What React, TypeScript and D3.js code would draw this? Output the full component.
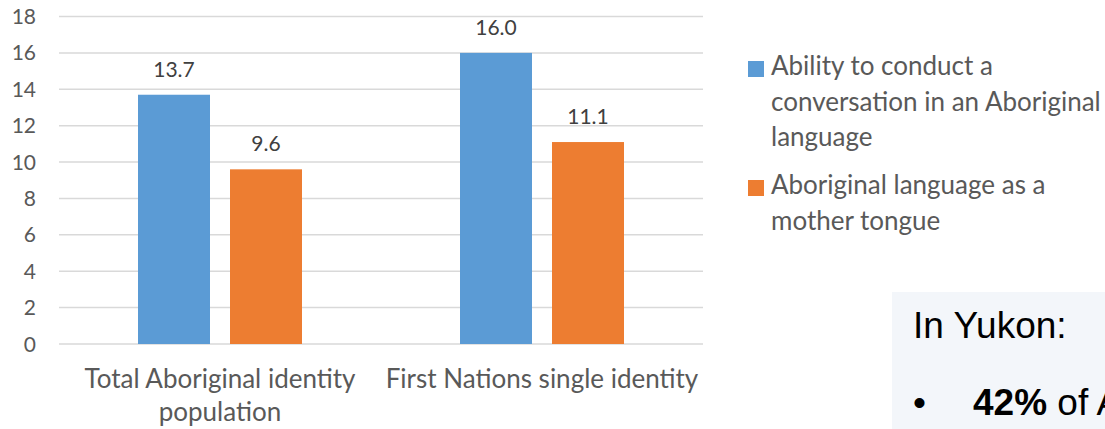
import { useEffect, useRef } from "react"
import * as d3 from "d3"

const categories = ["Total Aboriginal identity population", "First Nations single identity"]
const categoryLines = [["Total Aboriginal identity", "population"], ["First Nations single identity"]]
const seriesNames = [
  "Ability to conduct a conversation in an Aboriginal language",
  "Aboriginal language as a mother tongue",
]
const legendLines = [
  ["Ability to conduct a", "conversation in an Aboriginal", "language"],
  ["Aboriginal language as a", "mother tongue"],
]
const conversation = [13.7, 16.0]
const motherTongue = [9.6, 11.1]
const yTicks = [0, 2, 4, 6, 8, 10, 12, 14, 16, 18]
const colors = ["#5b9bd5", "#ed7d31"]

const W = 1105
const H = 429
const FONT = "Lato, 'Open Sans', sans-serif"

export default function App() {
  const svgRef = useRef<SVGSVGElement>(null)

  useEffect(() => {
    const svgEl = svgRef.current
    if (!svgEl) return
    const svg = d3.select(svgEl)
    svg.selectAll("*").remove()

    const plot = { left: 59, right: 703, top: 16.5, bottom: 344 }
    const values = [conversation, motherTongue]

    const y = d3.scaleLinear().domain([0, 18]).range([plot.bottom, plot.top])
    const x0 = d3.scaleBand<string>().domain(categories).range([plot.left, plot.right]).padding(0)
    const x1 = d3.scaleBand<string>().domain(seriesNames).range([0, x0.bandwidth()])
      .paddingInner(0.2174).paddingOuter(0.8587)

    // gridlines
    svg.append("g").selectAll("line").data(yTicks).join("line")
      .attr("x1", plot.left).attr("x2", plot.right)
      .attr("y1", d => y(d)).attr("y2", d => y(d))
      .attr("stroke", "#d9d9d9").attr("stroke-width", 1.5)

    // y tick labels
    svg.append("g").selectAll("text").data(yTicks).join("text")
      .attr("x", 36).attr("y", d => y(d)).attr("dy", "0.36em")
      .attr("text-anchor", "end")
      .attr("font-family", FONT).attr("font-size", 21).attr("fill", "#595959")
      .text(d => d)

    // bars + value labels
    const rows = categories.flatMap((c, ci) => seriesNames.map((s, si) => ({ c, s, si, v: values[si][ci] })))
    svg.append("g").selectAll("rect").data(rows).join("rect")
      .attr("x", d => (x0(d.c) ?? 0) + (x1(d.s) ?? 0))
      .attr("y", d => y(d.v))
      .attr("width", x1.bandwidth())
      .attr("height", d => y(0) - y(d.v))
      .attr("fill", d => colors[d.si])

    svg.append("g").selectAll("text").data(rows).join("text")
      .attr("x", d => (x0(d.c) ?? 0) + (x1(d.s) ?? 0) + x1.bandwidth() / 2)
      .attr("y", d => y(d.v) - 18)
      .attr("text-anchor", "middle")
      .attr("font-family", FONT).attr("font-size", 21).attr("fill", "#404040")
      .text(d => d.v.toFixed(1))

    // category labels
    const cat = svg.append("g").selectAll("text").data(categories).join("text")
      .attr("x", d => (x0(d) ?? 0) + x0.bandwidth() / 2)
      .attr("y", 388)
      .attr("text-anchor", "middle")
      .attr("font-family", FONT).attr("font-size", 26).attr("fill", "#595959")
    cat.selectAll("tspan").data((_, i) => categoryLines[i]).join("tspan")
      .attr("x", function () { return (this.parentNode as SVGTextElement).getAttribute("x") })
      .attr("dy", (_, i) => (i === 0 ? 0 : 33))
      .text(d => d)

    // legend
    const legendTop = [61, 180]
    const lg = svg.append("g").selectAll("g").data(seriesNames).join("g")
    lg.append("rect")
      .attr("x", 748).attr("y", (_, i) => legendTop[i])
      .attr("width", 16).attr("height", 16)
      .attr("fill", (_, i) => colors[i])
    lg.append("text")
      .attr("y", (_, i) => legendTop[i] + 14)
      .attr("font-family", FONT).attr("font-size", 26).attr("fill", "#595959")
      .selectAll("tspan").data((_, i) => legendLines[i]).join("tspan")
      .attr("x", 771)
      .attr("dy", (_, i) => (i === 0 ? 0 : 35.5))
      .text(d => d)

    // side note box, cut off at the right edge like the source slide
    svg.append("rect")
      .attr("x", 892).attr("y", 292).attr("width", W - 892).attr("height", H - 292)
      .attr("fill", "#f3f6fa")
    svg.append("text")
      .attr("x", 913).attr("y", 338)
      .attr("font-family", "'Liberation Sans', Arial, sans-serif").attr("font-size", 37).attr("fill", "#000")
      .text("In Yukon:")
    const note = svg.append("text")
      .attr("x", 913).attr("y", 415)
      .attr("font-family", "'Liberation Sans', Arial, sans-serif").attr("font-size", 37).attr("fill", "#000")
    note.append("tspan").text("•")
    note.append("tspan").attr("x", 973).attr("font-weight", "bold").text("42%")
    note.append("tspan").text(" of A")
  }, [])

  return (
    <svg
      ref={svgRef}
      width={W}
      height={H}
      style={{ position: "fixed", left: 0, top: 0, background: "#fff" }}
    />
  )
}
